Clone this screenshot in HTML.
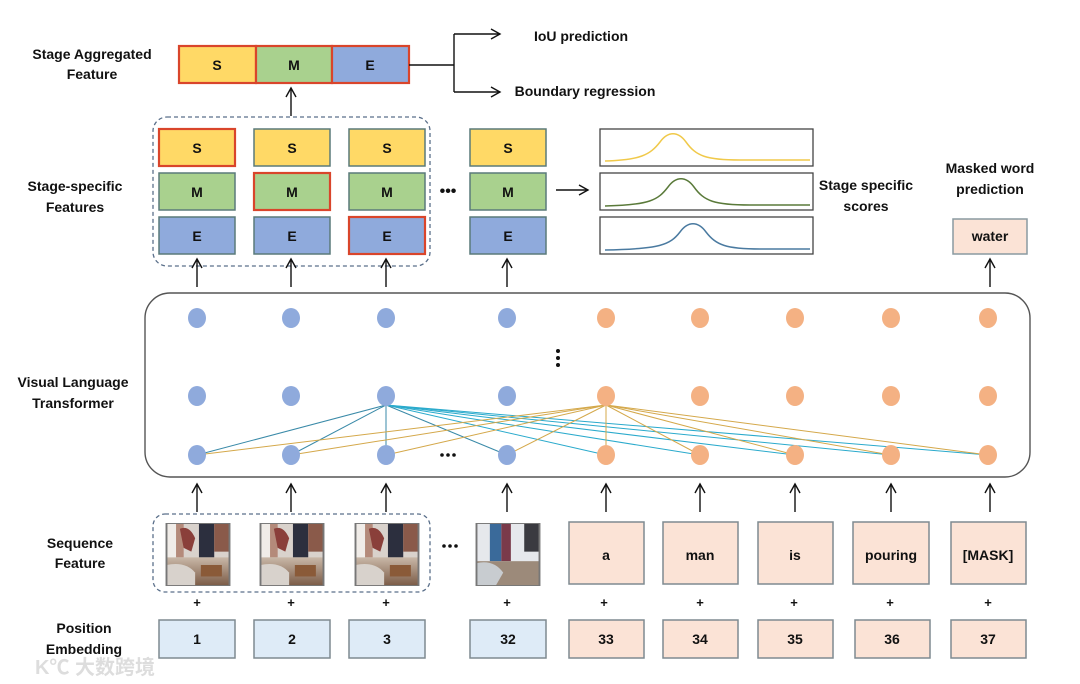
<!DOCTYPE html>
<html><head><meta charset="utf-8"><style>
html,body{margin:0;padding:0;background:#fff}
svg{display:block}
text{font-family:"Liberation Sans",sans-serif;font-weight:bold;fill:#111;text-anchor:middle}
</style></head><body>
<svg width="1080" height="684" viewBox="0 0 1080 684" xmlns="http://www.w3.org/2000/svg">
<defs>
<marker id="ah" markerWidth="12" markerHeight="12" refX="10" refY="6" orient="auto" markerUnits="userSpaceOnUse">
<path d="M1,1 L10,6 L1,11" fill="none" stroke="#111" stroke-width="1.4"/>
</marker>
<linearGradient id="fl" x1="0" y1="0" x2="0" y2="1"><stop offset="0" stop-color="#c9b8a8"/><stop offset="1" stop-color="#7a5a45"/></linearGradient>
<symbol id="img" viewBox="0 0 66 66">
<rect width="66" height="66" fill="#d9d2cc"/>
<rect x="0" y="0" width="10" height="40" fill="#f0ece8"/>
<rect x="10" y="0" width="8" height="36" fill="#b48a7a"/>
<rect x="34" y="0" width="16" height="36" fill="#2c2f3e"/>
<rect x="50" y="0" width="16" height="30" fill="#8a5a4a"/>
<path d="M14 6 Q24 2 30 16 L26 30 L18 26 Z" fill="#8a3f3a"/>
<rect x="0" y="36" width="66" height="30" fill="url(#fl)"/>
<path d="M0 44 Q20 40 30 52 L30 66 L0 66 Z" fill="#d8d2cc"/>
<rect x="36" y="44" width="22" height="12" fill="#8a5a38"/>
<rect x="0" y="0" width="66" height="66" fill="none" stroke="#777" stroke-width="2"/>
</symbol>
<symbol id="img2" viewBox="0 0 66 66">
<rect width="66" height="66" fill="#e6e8ec"/>
<rect x="14" y="0" width="12" height="40" fill="#3a6a9a"/>
<rect x="26" y="0" width="10" height="40" fill="#7a3a4a"/>
<rect x="50" y="0" width="16" height="30" fill="#3a3a40"/>
<rect x="0" y="40" width="66" height="26" fill="#9c8a7a"/>
<path d="M0 42 Q18 38 28 52 L20 66 L0 66 Z" fill="#c8ccd0"/>
<rect x="0" y="0" width="66" height="66" fill="none" stroke="#777" stroke-width="2"/>
</symbol>
</defs>

<!-- left labels -->
<g font-size="14">
<text x="92" y="59">Stage Aggregated</text><text x="92" y="79">Feature</text>
<text x="75" y="191">Stage-specific</text><text x="75" y="212">Features</text>
<text x="73" y="387">Visual Language</text><text x="73" y="408">Transformer</text>
<text x="80" y="548">Sequence</text><text x="80" y="568">Feature</text>
<text x="84" y="633">Position</text><text x="84" y="654">Embedding</text>
</g>

<!-- aggregated -->
<rect x="179" y="46" width="77" height="37" fill="#ffd966" stroke="#d9452b" stroke-width="2.2"/>
<rect x="256" y="46" width="76" height="37" fill="#a9d18e" stroke="#d9452b" stroke-width="2.2"/>
<rect x="332" y="46" width="77" height="37" fill="#8faadc" stroke="#d9452b" stroke-width="2.2"/>
<g font-size="14"><text x="217" y="70">S</text><text x="294" y="70">M</text><text x="370" y="70">E</text></g>
<path d="M409 65 H454 M454 34 V92" stroke="#111" stroke-width="1.4" fill="none"/>
<line x1="454" y1="34" x2="500" y2="34" stroke="#111" stroke-width="1.4" marker-end="url(#ah)"/>
<line x1="454" y1="92" x2="500" y2="92" stroke="#111" stroke-width="1.4" marker-end="url(#ah)"/>
<text x="581" y="41" font-size="14">IoU prediction</text>
<text x="585" y="96" font-size="14">Boundary regression</text>
<line x1="291" y1="116" x2="291" y2="88" stroke="#111" stroke-width="1.4" marker-end="url(#ah)"/>

<!-- stage specific -->
<rect x="153" y="117" width="277" height="149" rx="14" fill="none" stroke="#5a6f8a" stroke-width="1.3" stroke-dasharray="4,3"/>
<g stroke="#5a7a7a" stroke-width="1.5">
<rect x="159" y="129" width="76" height="37" fill="#ffd966"/>
<rect x="254" y="129" width="76" height="37" fill="#ffd966"/>
<rect x="349" y="129" width="76" height="37" fill="#ffd966"/>
<rect x="470" y="129" width="76" height="37" fill="#ffd966"/>
<rect x="159" y="173" width="76" height="37" fill="#a9d18e"/>
<rect x="254" y="173" width="76" height="37" fill="#a9d18e"/>
<rect x="349" y="173" width="76" height="37" fill="#a9d18e"/>
<rect x="470" y="173" width="76" height="37" fill="#a9d18e"/>
<rect x="159" y="217" width="76" height="37" fill="#8faadc"/>
<rect x="254" y="217" width="76" height="37" fill="#8faadc"/>
<rect x="349" y="217" width="76" height="37" fill="#8faadc"/>
<rect x="470" y="217" width="76" height="37" fill="#8faadc"/>
</g>
<g fill="none" stroke="#d9452b" stroke-width="2.2">
<rect x="159" y="129" width="76" height="37"/>
<rect x="254" y="173" width="76" height="37"/>
<rect x="349" y="217" width="76" height="37"/>
</g>
<g font-size="14">
<text x="197" y="153">S</text><text x="292" y="153">S</text><text x="387" y="153">S</text><text x="508" y="153">S</text>
<text x="197" y="197">M</text><text x="292" y="197">M</text><text x="387" y="197">M</text><text x="508" y="197">M</text>
<text x="197" y="241">E</text><text x="292" y="241">E</text><text x="387" y="241">E</text><text x="508" y="241">E</text>
</g>
<text x="448" y="196" font-size="16">•••</text>
<line x1="556" y1="190" x2="588" y2="190" stroke="#111" stroke-width="1.4" marker-end="url(#ah)"/>

<!-- score boxes -->
<g fill="none" stroke="#444" stroke-width="1.3">
<rect x="600" y="129" width="213" height="37"/>
<rect x="600" y="173" width="213" height="37"/>
<rect x="600" y="217" width="213" height="37"/>
</g>
<path d="M605 161 C640 160 650 155 660 142 C668 131 678 131 686 142 C696 156 706 160 740 160 L810 160" fill="none" stroke="#f0c94a" stroke-width="1.5"/>
<path d="M605 206 C650 205 658 200 668 187 C676 176 686 176 694 187 C704 201 714 205 750 205 L810 205" fill="none" stroke="#5a7a3a" stroke-width="1.5"/>
<path d="M605 250 C660 249 670 245 680 232 C688 221 698 221 706 232 C716 245 726 249 760 249 L810 249" fill="none" stroke="#4a7aa0" stroke-width="1.5"/>
<text x="866" y="190" font-size="14">Stage specific</text><text x="866" y="211" font-size="14">scores</text>
<text x="990" y="173" font-size="14">Masked word</text><text x="990" y="194" font-size="14">prediction</text>
<rect x="953" y="219" width="74" height="35" fill="#fbe3d6" stroke="#8a9aa0" stroke-width="1.5"/>
<text x="990" y="241" font-size="14">water</text>

<!-- arrows into stage features / water -->
<g stroke="#111" stroke-width="1.4" marker-end="url(#ah)">
<line x1="197" y1="287" x2="197" y2="259"/><line x1="291" y1="287" x2="291" y2="259"/>
<line x1="386" y1="287" x2="386" y2="259"/><line x1="507" y1="287" x2="507" y2="259"/>
<line x1="990" y1="287" x2="990" y2="259"/>
</g>

<!-- transformer -->
<rect x="145" y="293" width="885" height="184" rx="25" fill="none" stroke="#555" stroke-width="1.4"/>
<g stroke-width="1" fill="none">
<g stroke="#3a8aa8">
<line x1="386" y1="405" x2="197" y2="455"/><line x1="386" y1="405" x2="291" y2="455"/>
<line x1="386" y1="405" x2="386" y2="455"/><line x1="386" y1="405" x2="507" y2="455"/>
</g>
<g stroke="#2aaacc">
<line x1="386" y1="405" x2="606" y2="455"/><line x1="386" y1="405" x2="700" y2="455"/>
<line x1="386" y1="405" x2="795" y2="455"/><line x1="386" y1="405" x2="891" y2="455"/>
<line x1="386" y1="405" x2="988" y2="455"/>
</g>
<g stroke="#d4a84a">
<line x1="606" y1="405" x2="197" y2="455"/><line x1="606" y1="405" x2="291" y2="455"/>
<line x1="606" y1="405" x2="386" y2="455"/><line x1="606" y1="405" x2="507" y2="455"/>
<line x1="606" y1="405" x2="606" y2="455"/><line x1="606" y1="405" x2="700" y2="455"/>
<line x1="606" y1="405" x2="795" y2="455"/><line x1="606" y1="405" x2="891" y2="455"/>
<line x1="606" y1="405" x2="988" y2="455"/>
</g>
</g>
<g fill="#8faadc">
<ellipse cx="197" cy="318" rx="9" ry="10"/><ellipse cx="291" cy="318" rx="9" ry="10"/><ellipse cx="386" cy="318" rx="9" ry="10"/><ellipse cx="507" cy="318" rx="9" ry="10"/>
<ellipse cx="197" cy="396" rx="9" ry="10"/><ellipse cx="291" cy="396" rx="9" ry="10"/><ellipse cx="386" cy="396" rx="9" ry="10"/><ellipse cx="507" cy="396" rx="9" ry="10"/>
<ellipse cx="197" cy="455" rx="9" ry="10"/><ellipse cx="291" cy="455" rx="9" ry="10"/><ellipse cx="386" cy="455" rx="9" ry="10"/><ellipse cx="507" cy="455" rx="9" ry="10"/>
</g>
<g fill="#f4b183">
<ellipse cx="606" cy="318" rx="9" ry="10"/><ellipse cx="700" cy="318" rx="9" ry="10"/><ellipse cx="795" cy="318" rx="9" ry="10"/><ellipse cx="891" cy="318" rx="9" ry="10"/><ellipse cx="988" cy="318" rx="9" ry="10"/>
<ellipse cx="606" cy="396" rx="9" ry="10"/><ellipse cx="700" cy="396" rx="9" ry="10"/><ellipse cx="795" cy="396" rx="9" ry="10"/><ellipse cx="891" cy="396" rx="9" ry="10"/><ellipse cx="988" cy="396" rx="9" ry="10"/>
<ellipse cx="606" cy="455" rx="9" ry="10"/><ellipse cx="700" cy="455" rx="9" ry="10"/><ellipse cx="795" cy="455" rx="9" ry="10"/><ellipse cx="891" cy="455" rx="9" ry="10"/><ellipse cx="988" cy="455" rx="9" ry="10"/>
</g>
<g fill="#111"><circle cx="558" cy="351" r="2"/><circle cx="558" cy="358" r="2"/><circle cx="558" cy="365" r="2"/>
<circle cx="442" cy="455" r="1.8"/><circle cx="448" cy="455" r="1.8"/><circle cx="454" cy="455" r="1.8"/></g>

<!-- arrows into transformer -->
<g stroke="#111" stroke-width="1.4" marker-end="url(#ah)">
<line x1="197" y1="512" x2="197" y2="484"/><line x1="291" y1="512" x2="291" y2="484"/>
<line x1="386" y1="512" x2="386" y2="484"/><line x1="507" y1="512" x2="507" y2="484"/>
<line x1="606" y1="512" x2="606" y2="484"/><line x1="700" y1="512" x2="700" y2="484"/>
<line x1="795" y1="512" x2="795" y2="484"/><line x1="891" y1="512" x2="891" y2="484"/>
<line x1="990" y1="512" x2="990" y2="484"/>
</g>

<!-- sequence -->
<rect x="153" y="514" width="277" height="78" rx="12" fill="none" stroke="#5a6f8a" stroke-width="1.3" stroke-dasharray="4,3"/>
<use href="#img" x="165" y="523" width="66" height="63"/>
<use href="#img" x="259" y="523" width="66" height="63"/>
<use href="#img" x="354" y="523" width="66" height="63"/>
<use href="#img2" x="475" y="523" width="66" height="63"/>
<g fill="#111"><circle cx="444" cy="546" r="1.8"/><circle cx="450" cy="546" r="1.8"/><circle cx="456" cy="546" r="1.8"/></g>
<g fill="#fbe3d6" stroke="#7f8a90" stroke-width="1.5">
<rect x="569" y="522" width="75" height="62"/><rect x="663" y="522" width="75" height="62"/>
<rect x="758" y="522" width="75" height="62"/><rect x="853" y="522" width="76" height="62"/>
<rect x="951" y="522" width="75" height="62"/>
</g>
<g font-size="14">
<text x="606" y="560">a</text><text x="700" y="560">man</text><text x="795" y="560">is</text><text x="891" y="560">pouring</text><text x="988" y="560">[MASK]</text>
</g>
<g font-size="13">
<text x="197" y="607">+</text><text x="291" y="607">+</text><text x="386" y="607">+</text><text x="507" y="607">+</text>
<text x="604" y="607">+</text><text x="700" y="607">+</text><text x="794" y="607">+</text><text x="890" y="607">+</text><text x="988" y="607">+</text>
</g>
<g fill="#deebf7" stroke="#7f8a90" stroke-width="1.5">
<rect x="159" y="620" width="76" height="38"/><rect x="254" y="620" width="76" height="38"/>
<rect x="349" y="620" width="76" height="38"/><rect x="470" y="620" width="76" height="38"/>
</g>
<g fill="#fbe3d6" stroke="#7f8a90" stroke-width="1.5">
<rect x="569" y="620" width="75" height="38"/><rect x="663" y="620" width="75" height="38"/>
<rect x="758" y="620" width="75" height="38"/><rect x="855" y="620" width="75" height="38"/>
<rect x="951" y="620" width="75" height="38"/>
</g>
<g font-size="14">
<text x="197" y="644">1</text><text x="292" y="644">2</text><text x="387" y="644">3</text><text x="508" y="644">32</text>
<text x="606" y="644">33</text><text x="700" y="644">34</text><text x="795" y="644">35</text><text x="892" y="644">36</text><text x="988" y="644">37</text>
</g>
<text x="95" y="674" font-size="20" style="fill:#ddd;font-family:'Liberation Sans','Noto Sans CJK SC',sans-serif">K℃ 大数跨境</text>
</svg>
</body></html>
